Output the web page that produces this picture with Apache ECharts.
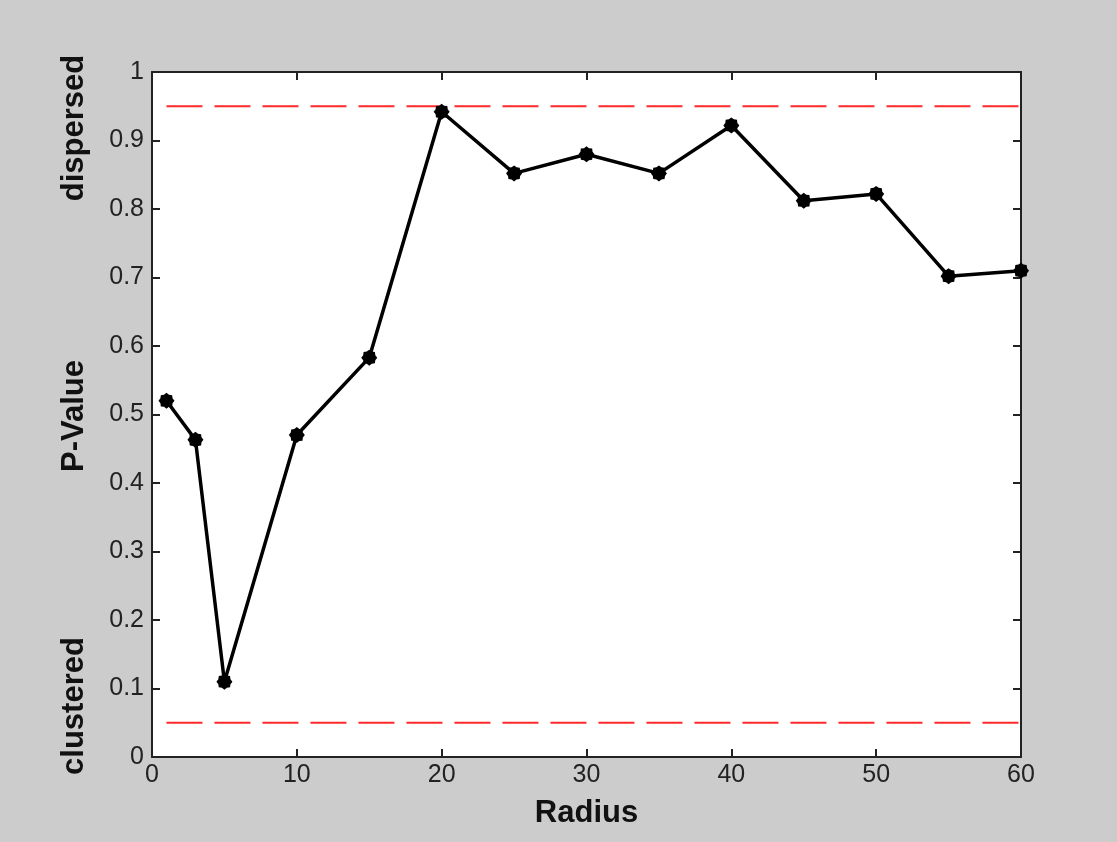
<!DOCTYPE html>
<html><head><meta charset="utf-8">
<script src="https://cdn.jsdelivr.net/npm/echarts@6/dist/echarts.min.js"></script>
<style>html,body{margin:0;padding:0;background:#cccccc}#c{width:1117px;height:842px}</style>
</head><body><div id="c"></div>
<script>
const radius = [1, 3, 5, 10, 15, 20, 25, 30, 35, 40, 45, 50, 55, 60];
const pValue = [0.52, 0.463, 0.11, 0.47, 0.583, 0.942, 0.852, 0.88, 0.852, 0.922, 0.812, 0.822, 0.702, 0.71];
const upperBound = 0.95;
const lowerBound = 0.05;
const boundRange = [1, 60];
const xTicks = [0, 10, 20, 30, 40, 50, 60];
const yTicks = [0, 0.1, 0.2, 0.3, 0.4, 0.5, 0.6, 0.7, 0.8, 0.9, 1];

// star-like marker shape (MATLAB '*' drawn thick)
function starPath() {
  const pts = [];
  for (let i = 0; i < 16; i++) {
    const r = i % 2 === 0 ? 50 : 41;
    const a = Math.PI * i / 8;
    pts.push((50 + r * Math.cos(a)).toFixed(2) + ' ' + (50 + r * Math.sin(a)).toFixed(2));
  }
  return 'path://M' + pts.join(' L') + ' Z';
}

const chart = echarts.init(document.getElementById('c'));
const font = 'Liberation Sans, Arial, sans-serif';
const axisCommon = {
  axisLine: {show: true, onZero: false, lineStyle: {color: '#222', width: 2}},
  axisTick: {show: true, inside: true, length: 8, lineStyle: {color: '#222', width: 2}},
  splitLine: {show: false}
};
chart.setOption({
  backgroundColor: '#cccccc',
  animation: false,
  grid: {left: 152, top: 72, right: 96, bottom: 85, backgroundColor: '#ffffff', show: true, borderWidth: 0},
  xAxis: [
    Object.assign({type: 'value', min: 0, max: 60, interval: 10, position: 'bottom',
      name: 'Radius', nameLocation: 'middle', nameGap: 41,
      nameTextStyle: {fontFamily: font, fontSize: 31, fontWeight: 'bold', color: '#111'},
      axisLabel: {fontFamily: font, fontSize: 25, color: '#222', margin: 6, formatter: v => xTicks.includes(v) ? String(v) : ''}}, axisCommon),
    Object.assign({type: 'value', min: 0, max: 60, interval: 10, position: 'top', axisLabel: {show: false}}, axisCommon)
  ],
  yAxis: [
    Object.assign({type: 'value', min: 0, max: 1, interval: 0.1, position: 'left',
      axisLabel: {fontFamily: font, fontSize: 25, color: '#222', margin: 8,
        formatter: v => { const t = yTicks.find(y => Math.abs(y - v) < 1e-9); return t === undefined ? '' : String(+t.toFixed(1)); }}}, axisCommon),
    Object.assign({type: 'value', min: 0, max: 1, interval: 0.1, position: 'right', axisLabel: {show: false}}, axisCommon)
  ],
  graphic: [
    {type: 'text', rotation: Math.PI / 2, x: 74, y: 128,
      style: {text: 'dispersed', font: 'bold 31px ' + font, fill: '#111', align: 'center', verticalAlign: 'middle'}},
    {type: 'text', rotation: Math.PI / 2, x: 74, y: 416,
      style: {text: 'P-Value', font: 'bold 31px ' + font, fill: '#111', align: 'center', verticalAlign: 'middle'}},
    {type: 'text', rotation: Math.PI / 2, x: 74, y: 706,
      style: {text: 'clustered', font: 'bold 31px ' + font, fill: '#111', align: 'center', verticalAlign: 'middle'}}
  ],
  series: [
    {type: 'line', data: boundRange.map(x => [x, upperBound]), symbol: 'none',
      lineStyle: {color: '#ff2a2a', width: 2, type: [36, 12]}, z: 2},
    {type: 'line', data: boundRange.map(x => [x, lowerBound]), symbol: 'none',
      lineStyle: {color: '#ff2a2a', width: 2, type: [36, 12]}, z: 2},
    {type: 'line', data: radius.map((x, i) => [x, pValue[i]]), symbol: starPath(), symbolSize: 16,
      itemStyle: {color: '#000'}, lineStyle: {color: '#000', width: 3.5}, z: 3}
  ]
});
</script></body></html>
